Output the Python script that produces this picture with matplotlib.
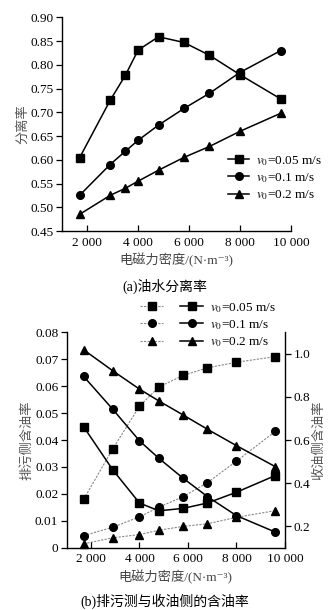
import matplotlib
matplotlib.use("Agg")
import matplotlib.pyplot as plt
from matplotlib.legend_handler import HandlerTuple

plt.rcParams['font.family'] = ['Liberation Serif', 'Noto Sans CJK SC', 'DejaVu Sans']
plt.rcParams['mathtext.fontset'] = 'stix'
plt.rcParams['font.size'] = 9.5

# (a) separation rate
x_a = [1700, 2900, 3500, 4000, 4800, 5800, 6800, 8000, 9600]
sep_005 = [0.604, 0.725, 0.778, 0.831, 0.859, 0.847, 0.820, 0.779, 0.728]
sep_01 = [0.525, 0.590, 0.618, 0.641, 0.673, 0.708, 0.740, 0.784, 0.830]
sep_02 = [0.485, 0.525, 0.540, 0.555, 0.578, 0.605, 0.628, 0.660, 0.698]

# (b) oil content: drain side (left axis) and oil side (right axis)
x_b = [1700, 2900, 4000, 4800, 5800, 6800, 8000, 9600]
drain_005 = [0.0449, 0.0289, 0.0166, 0.0137, 0.0146, 0.0166, 0.0206, 0.0268]
drain_01 = [0.0636, 0.0514, 0.0397, 0.0332, 0.0258, 0.0190, 0.0119, 0.0058]
drain_02 = [0.0735, 0.0657, 0.0589, 0.0545, 0.0493, 0.0440, 0.0379, 0.0301]
oil_005 = [0.325, 0.559, 0.757, 0.846, 0.900, 0.935, 0.961, 0.987]
oil_01 = [0.156, 0.195, 0.243, 0.288, 0.337, 0.402, 0.502, 0.640]
oil_02 = [0.118, 0.146, 0.161, 0.181, 0.199, 0.211, 0.241, 0.272]

labels = [r'$v_0$=0.05 m/s', r'$v_0$=0.1 m/s', r'$v_0$=0.2 m/s']
markers = ['s', 'o', '^']
xticks = [2000, 4000, 6000, 8000, 10000]
xticklabels = ['2 000', '4 000', '6 000', '8 000', '10 000']
xlabel = '电磁力密度/(N·m⁻³)'

W, H = 335, 610
fig = plt.figure(figsize=(W / 100, H / 100), dpi=100)
fig.patch.set_facecolor('white')

def style_axis(ax):
    ax.set_xlim(1000, 10000)
    ax.set_xticks(xticks)
    ax.set_xticklabels(xticklabels)
    ax.tick_params(axis='x', direction='in', length=4, width=0.9, pad=4)
    ax.tick_params(axis='y', direction='out', length=4, width=0.9, pad=2)
    ax.spines['top'].set_visible(False)
    for s in ax.spines.values():
        s.set_linewidth(1.0)

# ---- top chart
ax1 = fig.add_axes([61.7 / W, 1 - 231 / H, 229.3 / W, 213.7 / H])
for ys, m, lab in zip([sep_005, sep_01, sep_02], markers, labels):
    ax1.plot(x_a, ys, color='black', lw=1.1, marker=m, ms=5.5, label=lab, clip_on=False)
ax1.set_ylim(0.45, 0.90)
ax1.set_yticks([0.45, 0.50, 0.55, 0.60, 0.65, 0.70, 0.75, 0.80, 0.85, 0.90])
ax1.set_yticklabels(['%.2f' % v for v in ax1.get_yticks()])
style_axis(ax1)
ax1.spines['right'].set_visible(False)
ax1.set_xlabel(xlabel, color='#444444', labelpad=3)
ax1.set_ylabel('分离率', color='#555555', labelpad=1)
ax1.legend(loc='upper left', bbox_to_anchor=(228 / W, 1 - 154 / H),
           bbox_transform=fig.transFigure, frameon=False,
           handlelength=1.6, handletextpad=0.5, labelspacing=0.25, borderpad=0,
           borderaxespad=0)
fig.text(165 / W, 1 - 286 / H, '(a)油水分离率', ha='center', va='center', fontsize=10)

# ---- bottom chart
ax = fig.add_axes([66.7 / W, 1 - 547.7 / H, 218.3 / W, 215.4 / H])
ax2 = ax.twinx()
dotted = []
for ys, m in zip([oil_005, oil_01, oil_02], markers):
    l, = ax2.plot(x_b, ys, color='#888888', lw=0.8, ls=(0, (2, 1.2)), marker=m, ms=5.5,
                  mfc='black', mec='black', clip_on=False)
    dotted.append(l)
solid = []
for ys, m in zip([drain_005, drain_01, drain_02], markers):
    l, = ax.plot(x_b, ys, color='black', lw=1.1, marker=m, ms=5.5, clip_on=False)
    solid.append(l)
ax.set_zorder(ax2.get_zorder() + 1)
ax.patch.set_visible(False)

ax.set_ylim(0, 0.08)
ax.set_yticks([0, 0.01, 0.02, 0.03, 0.04, 0.05, 0.06, 0.07, 0.08])
ax.set_yticklabels(['0', '0.01', '0.02', '0.03', '0.04', '0.05', '0.06', '0.07', '0.08'])
ax2.set_ylim(0.1, 1.1)
ax2.set_yticks([0.2, 0.4, 0.6, 0.8, 1.0])
ax2.set_yticklabels(['0.2', '0.4', '0.6', '0.8', '1.0'])
style_axis(ax)
style_axis(ax2)
ax.spines['right'].set_visible(False)
ax2.spines['left'].set_visible(False)
ax2.spines['bottom'].set_visible(False)
ax2.tick_params(axis='y', direction='out', length=4, width=0.9, pad=2)
ax.set_xlabel(xlabel, color='#444444', labelpad=3)
ax.set_ylabel('排污侧含油率', color='#555555', labelpad=1)
ax2.set_ylabel('收油侧含油率', color='#555555', labelpad=2)

ax.legend([(d, s) for d, s in zip(dotted, solid)], labels,
          handler_map={tuple: HandlerTuple(ndivide=None, pad=1.3)},
          loc='upper left', bbox_to_anchor=(140 / W, 1 - 301 / H),
          bbox_transform=fig.transFigure, frameon=False,
          handlelength=4.8, handletextpad=0.5, labelspacing=0.25, borderpad=0,
          borderaxespad=0)
fig.text(165 / W, 1 - 601.7 / H, '(b)排污测与收油侧的含油率', ha='center', va='center', fontsize=10)

fig.savefig('out.png', dpi=100)
